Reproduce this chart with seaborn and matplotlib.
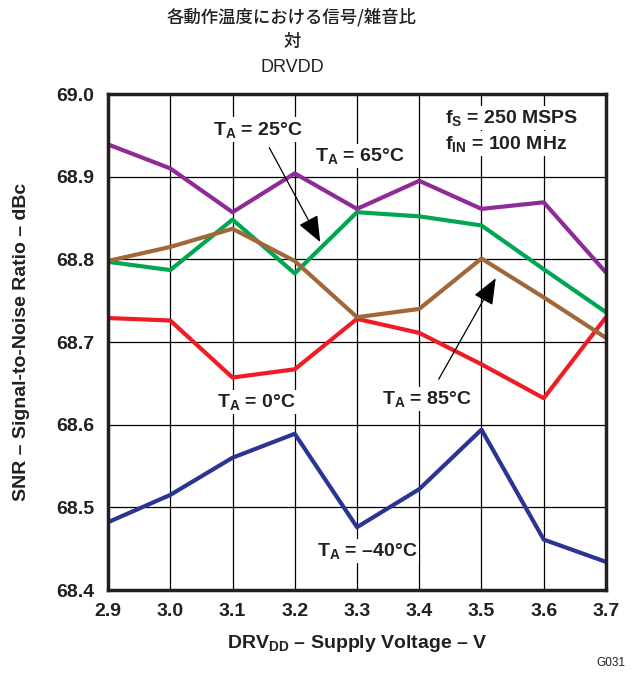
import matplotlib
matplotlib.use("Agg")
import matplotlib.pyplot as plt
import seaborn as sns
import pandas as pd

voltage = [2.9, 3.0, 3.1, 3.2, 3.3, 3.4, 3.5, 3.6, 3.7]
snr_m40 = [68.482, 68.515, 68.560, 68.589, 68.476, 68.522, 68.594, 68.461, 68.434]
snr_0 = [68.729, 68.726, 68.657, 68.667, 68.728, 68.711, 68.673, 68.632, 68.730]
snr_25 = [68.797, 68.787, 68.848, 68.783, 68.857, 68.852, 68.841, 68.788, 68.736]
snr_65 = [68.939, 68.910, 68.857, 68.904, 68.861, 68.895, 68.861, 68.869, 68.784]
snr_85 = [68.798, 68.815, 68.837, 68.798, 68.730, 68.740, 68.801, 68.754, 68.705]
series_names = ["-40C", "0C", "25C", "65C", "85C"]
y_ticks = [68.4, 68.5, 68.6, 68.7, 68.8, 68.9, 69.0]
x_ticks = [2.9, 3.0, 3.1, 3.2, 3.3, 3.4, 3.5, 3.6, 3.7]

colors = {"-40C": "#2B3492", "0C": "#EE1C25", "25C": "#00A651",
          "65C": "#8E2C96", "85C": "#A0673A"}

rows = []
for name, vals in zip(series_names, [snr_m40, snr_0, snr_25, snr_65, snr_85]):
    for v, s in zip(voltage, vals):
        rows.append({"V": v, "SNR": s, "T": name})
df = pd.DataFrame(rows)

sns.set_theme(style="white")
plt.rcParams["font.family"] = ["Liberation Sans", "Noto Sans CJK JP", "DejaVu Sans"]
plt.rcParams["mathtext.fontset"] = "custom"
plt.rcParams["mathtext.rm"] = "Liberation Sans:bold"
plt.rcParams["mathtext.it"] = "Liberation Sans:bold"
plt.rcParams["mathtext.bf"] = "Liberation Sans:bold"
plt.rcParams["mathtext.default"] = "rm"

fig = plt.figure(figsize=(6.36, 6.77), dpi=100)
ax = fig.add_axes([108/636, 1 - 590/677, (606-108)/636, (590-94)/677])

sns.lineplot(data=df, x="V", y="SNR", hue="T", palette=colors, linewidth=3,
             legend=False, ax=ax, zorder=3)

ax.set_xlim(2.9, 3.7)
ax.set_ylim(68.4, 69.0)
ax.set_xticks(x_ticks)
ax.set_yticks(y_ticks)
ax.set_xticklabels([f"{t:.1f}" for t in x_ticks], fontsize=14, fontweight="bold", color="#231F20")
ax.set_yticklabels([f"{t:.1f}" for t in y_ticks], fontsize=14, fontweight="bold", color="#231F20")
ax.tick_params(axis="x", length=0, pad=9)
ax.tick_params(axis="y", length=0, pad=10)
ax.grid(True, color="black", linewidth=0.9)
for sp in ax.spines.values():
    sp.set_linewidth(2.5)
    sp.set_color("#231F20")
    sp.set_zorder(6)

ax.set_xlabel("DRV$_{DD}$ – Supply Voltage – V", fontsize=14, fontweight="bold",
              color="#231F20", labelpad=10)
ax.set_ylabel("SNR – Signal-to-Noise Ratio – dBc", fontsize=14, fontweight="bold",
              color="#231F20", labelpad=19)

bbox = dict(facecolor="white", edgecolor="none", pad=1.5)
tk = dict(fontsize=14, fontweight="bold", color="#231F20", ha="center", va="center",
          bbox=bbox, zorder=5)
ax.text(3.141, 68.957, "T$_{A}$ = 25°C", **tk)
ax.text(3.305, 68.925, "T$_{A}$ = 65°C", **tk)
ax.text(3.138, 68.627, "T$_{A}$ = 0°C", **tk)
ax.text(3.412, 68.631, "T$_{A}$ = 85°C", **tk)
ax.text(3.316, 68.447, "T$_{A}$ = –40°C", **tk)
tl = dict(tk); tl["ha"] = "left"
ax.text(3.441, 68.971, "f$_{S}$ = 250 MSPS", **tl)
ax.text(3.441, 68.940, "f$_{IN}$ = 100 MHz", **tl)

arrow = dict(arrowstyle="-|>,head_length=1.35,head_width=0.55", color="black", lw=0.9)
ax.annotate("", xy=(3.243, 68.818), xytext=(3.157, 68.938), arrowprops=arrow, zorder=5)
ax.annotate("", xy=(3.525, 68.780), xytext=(3.429, 68.652), arrowprops=arrow, zorder=5)

fig.text(292/636, 1 - 17/677, "各動作温度における信号/雑音比", fontsize=12.5,
         color="#231F20", ha="center", va="center", fontweight="medium",
         family=["Noto Sans CJK JP", "Liberation Sans"])
fig.text(292/636, 1 - 42/677, "対", fontsize=12.5,
         color="#231F20", ha="center", va="center", fontweight="medium",
         family=["Noto Sans CJK JP", "Liberation Sans"])
fig.text(292/636, 1 - 67/677, "DRVDD", fontsize=13,
         color="#231F20", ha="center", va="center",
         family=["Liberation Sans", "Noto Sans CJK JP"])
fig.text(625/636, 1 - 663/677, "G031", fontsize=8.5, color="#231F20", ha="right", va="center")

fig.savefig("out.png", dpi=100)
